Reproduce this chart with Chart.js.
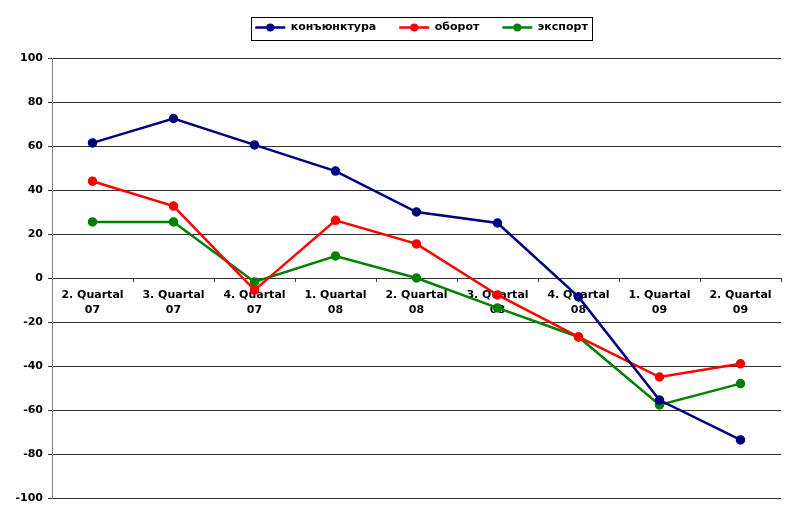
<!DOCTYPE html>
<html>
<head>
<meta charset="utf-8">
<script src="https://cdn.jsdelivr.net/npm/chart.js"></script>
<style>
  html, body { margin: 0; padding: 0; background: #fff; }
  #wrap { position: relative; width: 800px; height: 523px; }
</style>
</head>
<body>
<div id="wrap"><canvas id="chart"></canvas></div>
<script>
// data
const quarters = [
    ["2. Quartal", "07"], ["3. Quartal", "07"], ["4. Quartal", "07"],
    ["1. Quartal", "08"], ["2. Quartal", "08"], ["3. Quartal", "08"],
    ["4. Quartal", "08"], ["1. Quartal", "09"], ["2. Quartal", "09"]
];
const konjunktura = [61.4, 72.5, 60.5, 48.6, 30, 25, -8.6, -55.5, -73.6];
const oborot = [44, 32.7, -5.5, 26.2, 15.5, -7.7, -26.8, -45, -39];
const eksport = [25.5, 25.5, -1.8, 10, 0, -13.6, -26.8, -57.7, -48];
const yTicks = [-100, -80, -60, -40, -20, 0, 20, 40, 60, 80, 100];

const FONT = "'DejaVu Sans', Verdana, sans-serif";

// shifts the legend a bit (Excel puts it right of centre) and draws the box around it
const legendFrame = {
    id: "legendFrame",
    afterInit(chart) {
        const lg = chart.legend;
        const fit = lg.fit;
        lg.fit = function () {
            fit.call(this);
            this.height += 4;
        };
    },
    afterLayout(chart) {
        const lg = chart.legend;
        lg.left += 31;
        lg.right += 31;
        lg.top -= 11;
        lg.bottom -= 11;
    },
    afterDraw(chart) {
        const lg = chart.legend;
        const boxes = lg.legendHitBoxes;
        if (!boxes || !boxes.length) return;
        const ctx = chart.ctx;
        const colors = lg.legendItems.map(it => it.strokeStyle);
        ctx.save();
        boxes.forEach((h, i) => {
            ctx.beginPath();
            ctx.fillStyle = colors[i];
            ctx.arc(h.left + 15, h.top + h.height / 2, 4, 0, Math.PI * 2);
            ctx.fill();
        });
        const first = boxes[0], last = boxes[boxes.length - 1];
        ctx.strokeStyle = "#000";
        ctx.lineWidth = 1;
        ctx.strokeRect(Math.round(first.left - 4) + 0.5, Math.round(first.top - 5) + 0.5,
            Math.round(last.left + last.width - first.left + 8), 23);
        ctx.restore();
    }
};

const ds = (label, data, color) => ({
    label: label,
    data: data,
    borderColor: color,
    backgroundColor: color,
    pointBackgroundColor: color,
    pointBorderColor: color,
    borderWidth: 2.5,
    pointRadius: 3.5,
    pointHoverRadius: 4,
    tension: 0,
    pointStyle: "circle"
});

new Chart(document.getElementById("chart"), {
    type: "line",
    data: {
        labels: quarters,
        datasets: [
            ds("конъюнктура", konjunktura, "#000080"),
            ds("оборот", oborot, "#ff0000"),
            ds("экспорт", eksport, "#008000")
        ]
    },
    plugins: [legendFrame],
    options: {
        responsive: true,
        maintainAspectRatio: false,
        animation: false,
        layout: { padding: { top: 10, left: 0, right: 19, bottom: 25 } },
        plugins: {
            legend: {
                position: "top",
                labels: {
                    usePointStyle: true,
                    pointStyle: "line",
                    pointStyleWidth: 30,
                    padding: 23,
                    color: "#000",
                    font: { family: FONT, size: 11, weight: "bold" }
                }
            },
            tooltip: { enabled: false }
        },
        scales: {
            x: {
                position: { y: 0 },
                offset: true,
                grid: {
                    offset: true,
                    drawOnChartArea: false,
                    drawTicks: true,
                    tickLength: 4,
                    color: "#404040"
                },
                border: { display: false },
                ticks: {
                    color: "#000",
                    padding: 6,
                    maxRotation: 0,
                    autoSkip: false,
                    font: { family: FONT, size: 11, weight: "bold", lineHeight: 1.36 }
                }
            },
            y: {
                min: -100,
                max: 100,
                afterFit: (scale) => { scale.width = 52; },
                afterBuildTicks: (scale) => {
                    scale.ticks = yTicks.map(v => ({ value: v }));
                },
                grid: {
                    color: "#303030",
                    tickLength: 4,
                    drawTicks: true
                },
                border: { color: "#808080", width: 1 },
                ticks: {
                    color: "#000",
                    padding: 5,
                    font: { family: FONT, size: 11, weight: "bold" }
                }
            }
        }
    }
});
</script>
</body>
</html>
